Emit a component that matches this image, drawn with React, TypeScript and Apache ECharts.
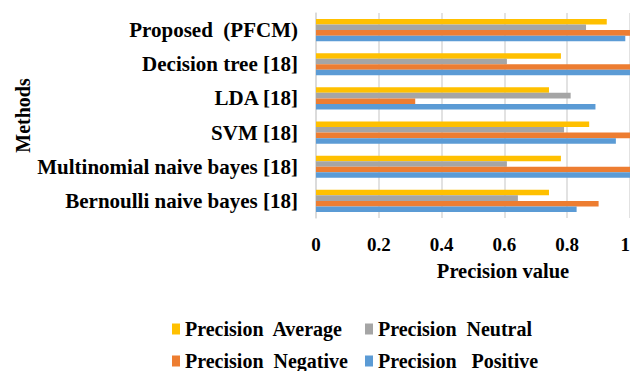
import React, { useEffect, useRef } from "react";
import * as echarts from "echarts";

const categories = [
  "Bernoulli naive bayes [18]",
  "Multinomial naive bayes [18]",
  "SVM [18]",
  "LDA [18]",
  "Decision tree [18]",
  "Proposed  (PFCM)",
];
const precisionPositive = [0.83, 1.0, 0.955, 0.89, 1.0, 0.985];
const precisionNegative = [0.9, 1.0, 1.0, 0.316, 1.0, 1.0];
const precisionNeutral = [0.643, 0.608, 0.79, 0.811, 0.608, 0.86];
const precisionAverage = [0.742, 0.78, 0.87, 0.742, 0.78, 0.926];
const xTicks = [0, 0.2, 0.4, 0.6, 0.8, 1];

const FONT = "'Liberation Serif', 'Times New Roman', serif";
const COLORS = {
  avg: "#FFC000",
  neu: "#A5A5A5",
  neg: "#ED7D31",
  pos: "#5B9BD5",
};

export default function App() {
  const ref = useRef<HTMLDivElement>(null);
  useEffect(() => {
    if (!ref.current) return;
    const chart = echarts.init(ref.current, undefined, { renderer: "svg" });
    const legendText = {
      fontFamily: FONT,
      fontWeight: "bold" as const,
      fontSize: 20,
      color: "#000",
    };
    const mkLegend = (name: string, left: number, top: number) => ({
      data: [name],
      left,
      top,
      orient: "horizontal" as const,
      itemWidth: 8,
      itemHeight: 11,
      itemGap: 0,
      padding: 0,
      textStyle: legendText,
      icon: "rect",
      selectedMode: false,
    });
    chart.setOption({
      animation: false,
      backgroundColor: "#fff",
      grid: {
        left: 316,
        top: 13,
        width: 314,
        height: 205,
        outerBoundsMode: "none",
        containLabel: false,
      },
      legend: [
        mkLegend("Precision  Average", 172, 319),
        mkLegend("Precision  Neutral", 365, 319),
        mkLegend("Precision  Negative", 172, 351),
        mkLegend("Precision   Positive", 365, 351),
      ],
      xAxis: {
        type: "value",
        min: 0,
        max: 1,
        interval: 0.2,
        axisLine: { show: false },
        axisTick: { show: false },
        splitLine: { show: true, lineStyle: { color: "#D9D9D9", width: 1.5 } },
        axisLabel: {
          margin: 17,
          alignMaxLabel: "right",
          fontFamily: FONT,
          fontWeight: "bold",
          fontSize: 19,
          color: "#000",
          formatter: (v: number) => (xTicks.includes(v) ? String(v) : ""),
        },
      },
      yAxis: {
        type: "category",
        data: categories,
        name: "Methods",
        nameLocation: "middle",
        nameGap: 279,
        nameTextStyle: {
          fontFamily: FONT,
          fontWeight: "bold",
          fontSize: 20,
          color: "#000",
        },
        axisLine: { show: true, lineStyle: { color: "#D9D9D9", width: 1.5 } },
        axisTick: { show: false },
        axisLabel: {
          margin: 18,
          fontFamily: FONT,
          fontWeight: "bold",
          fontSize: 21,
          color: "#000",
        },
      },
      graphic: [
        {
          type: "text",
          x: 503,
          y: 271,
          style: {
            text: "Precision value",
            fontFamily: FONT,
            fontWeight: "bold",
            fontSize: 20.5,
            fill: "#000",
            align: "center",
            verticalAlign: "middle",
          },
        },
      ],
      series: [
        {
          name: "Precision  Average",
          type: "bar",
          data: precisionAverage,
          itemStyle: { color: COLORS.avg },
          barGap: "0%",
          barCategoryGap: "35%",
        },
        {
          name: "Precision  Neutral",
          type: "bar",
          data: precisionNeutral,
          itemStyle: { color: COLORS.neu },
        },
        {
          name: "Precision  Negative",
          type: "bar",
          data: precisionNegative,
          itemStyle: { color: COLORS.neg },
        },
        {
          name: "Precision   Positive",
          type: "bar",
          data: precisionPositive,
          itemStyle: { color: COLORS.pos },
        },
      ],
    });
    return () => chart.dispose();
  }, []);
  return (
    <div
      ref={ref}
      style={{ position: "fixed", left: 0, top: 0, width: 630, height: 371 }}
    />
  );
}
